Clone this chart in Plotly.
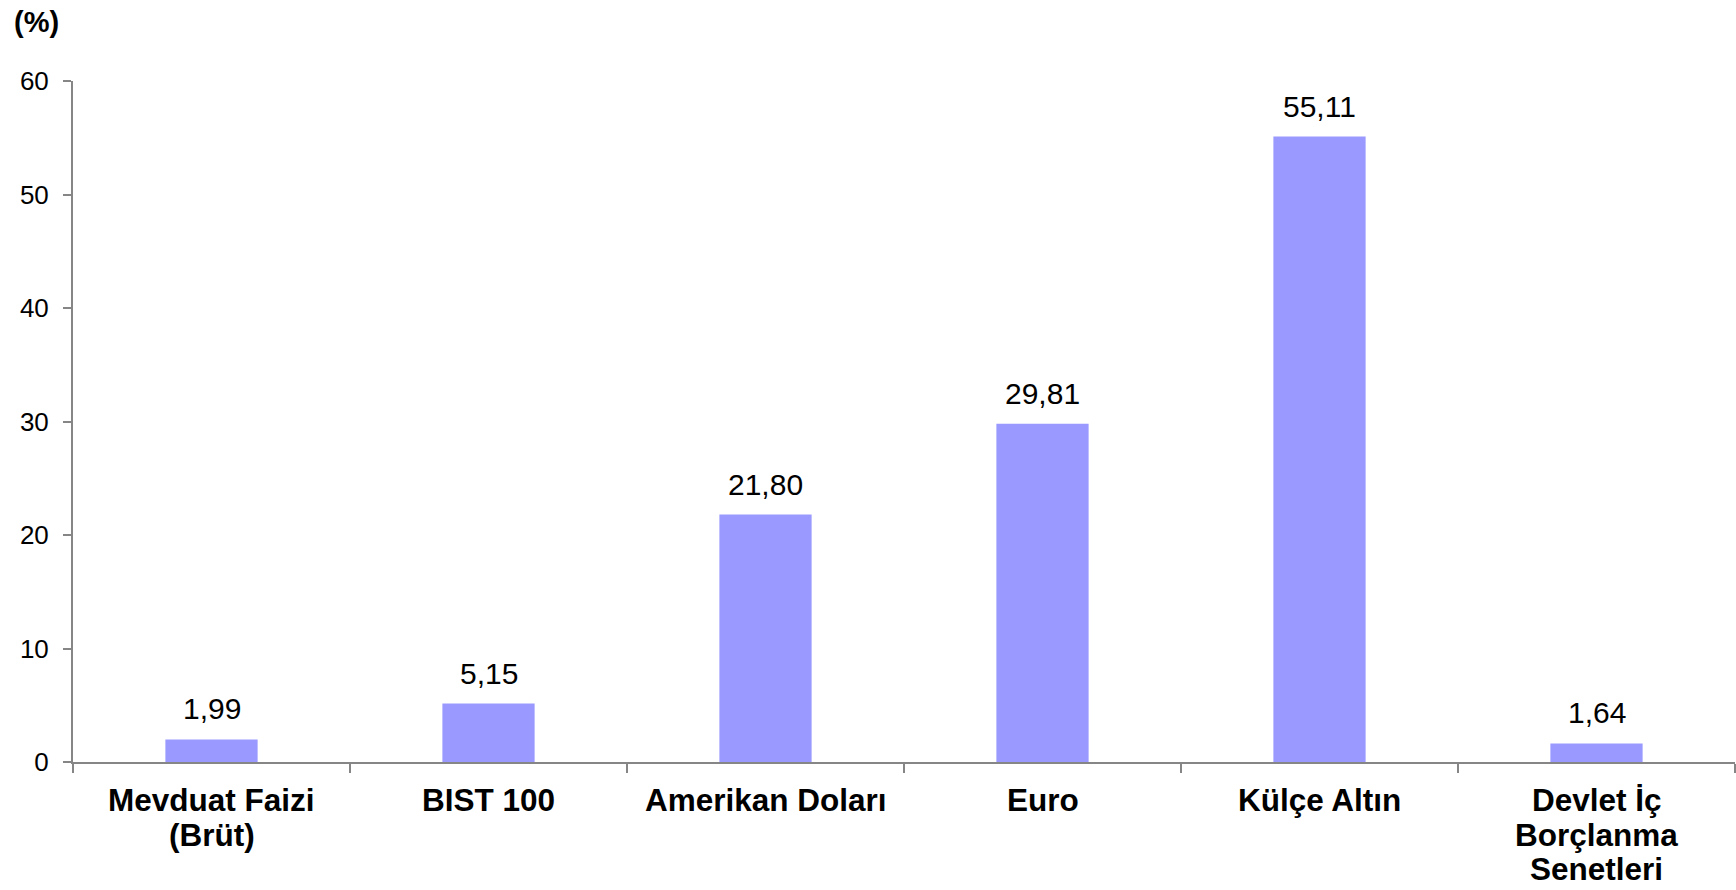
import plotly.graph_objects as go

categories = ["Mevduat Faizi<br>(Brüt)", "BIST 100", "Amerikan Doları", "Euro", "Külçe Altın",
              "Devlet İç<br>Borçlanma<br>Senetleri"]
values = [1.99, 5.15, 21.80, 29.81, 55.11, 1.64]
value_labels = ["1,99", "5,15", "21,80", "29,81", "55,11", "1,64"]
y_ticks = [0, 10, 20, 30, 40, 50, 60]

FONT = "Liberation Sans, Arial, sans-serif"
AXIS_COLOR = "#868686"

L, R, T, B = 73, 1, 81, 128
W, H = 1736, 890
PW, PH = W - L - R, H - T - B

fig = go.Figure()
fig.add_trace(go.Bar(
    x=categories, y=values,
    marker=dict(color="#9999FF", line=dict(width=0)),
    width=0.333,
    hoverinfo="skip",
))

for c, v, t in zip(categories, values, value_labels):
    fig.add_annotation(x=c, y=v, text=t, showarrow=False, xref="x", yref="y",
                       yanchor="bottom", yshift=12,
                       font=dict(family=FONT, size=30, color="#000000"))

# category labels, one annotation per line for tighter line spacing
for c in categories:
    for k, line in enumerate(c.split("<br>")):
        fig.add_annotation(x=c, y=0, text="<b>" + line + "</b>", showarrow=False,
                           xref="x", yref="y", yanchor="middle", xanchor="center",
                           yshift=-(38 + 34.5 * k),
                           font=dict(family=FONT, size=31.5, color="#000000"))

fig.add_annotation(x=-(L - 12) / PW, y=1 + (T - 4) / PH, xref="paper", yref="paper",
                   text="<b>(%)</b>", showarrow=False, xanchor="left", yanchor="top",
                   font=dict(family=FONT, size=29, color="#000000"))

fig.update_layout(
    width=W, height=H,
    margin=dict(l=L, r=R, t=T, b=B, autoexpand=False),
    paper_bgcolor="white", plot_bgcolor="white",
    showlegend=False,
    font=dict(family=FONT, color="#000000"),
)

fig.update_xaxes(
    type="category",
    range=[-0.5, 5.5],
    showline=True, linecolor=AXIS_COLOR, linewidth=2,
    ticks="outside", tickson="boundaries", ticklen=9, tickcolor=AXIS_COLOR, tickwidth=1.5,
    showticklabels=False,
    showgrid=False, zeroline=False, automargin=False,
)
fig.update_yaxes(
    range=[0, 60],
    tickvals=y_ticks, ticktext=[str(v) for v in y_ticks],
    showline=True, linecolor=AXIS_COLOR, linewidth=2,
    ticks="outside", ticklen=8, tickcolor=AXIS_COLOR, tickwidth=1.5,
    tickfont=dict(family=FONT, size=26, color="#000000"),
    showgrid=False, zeroline=False, automargin=False,
    ticklabelstandoff=9,
)

fig.write_html("out.html",
               config={"displayModeBar": False},
               post_script="document.body.style.margin='0';document.body.style.overflow='hidden';")
